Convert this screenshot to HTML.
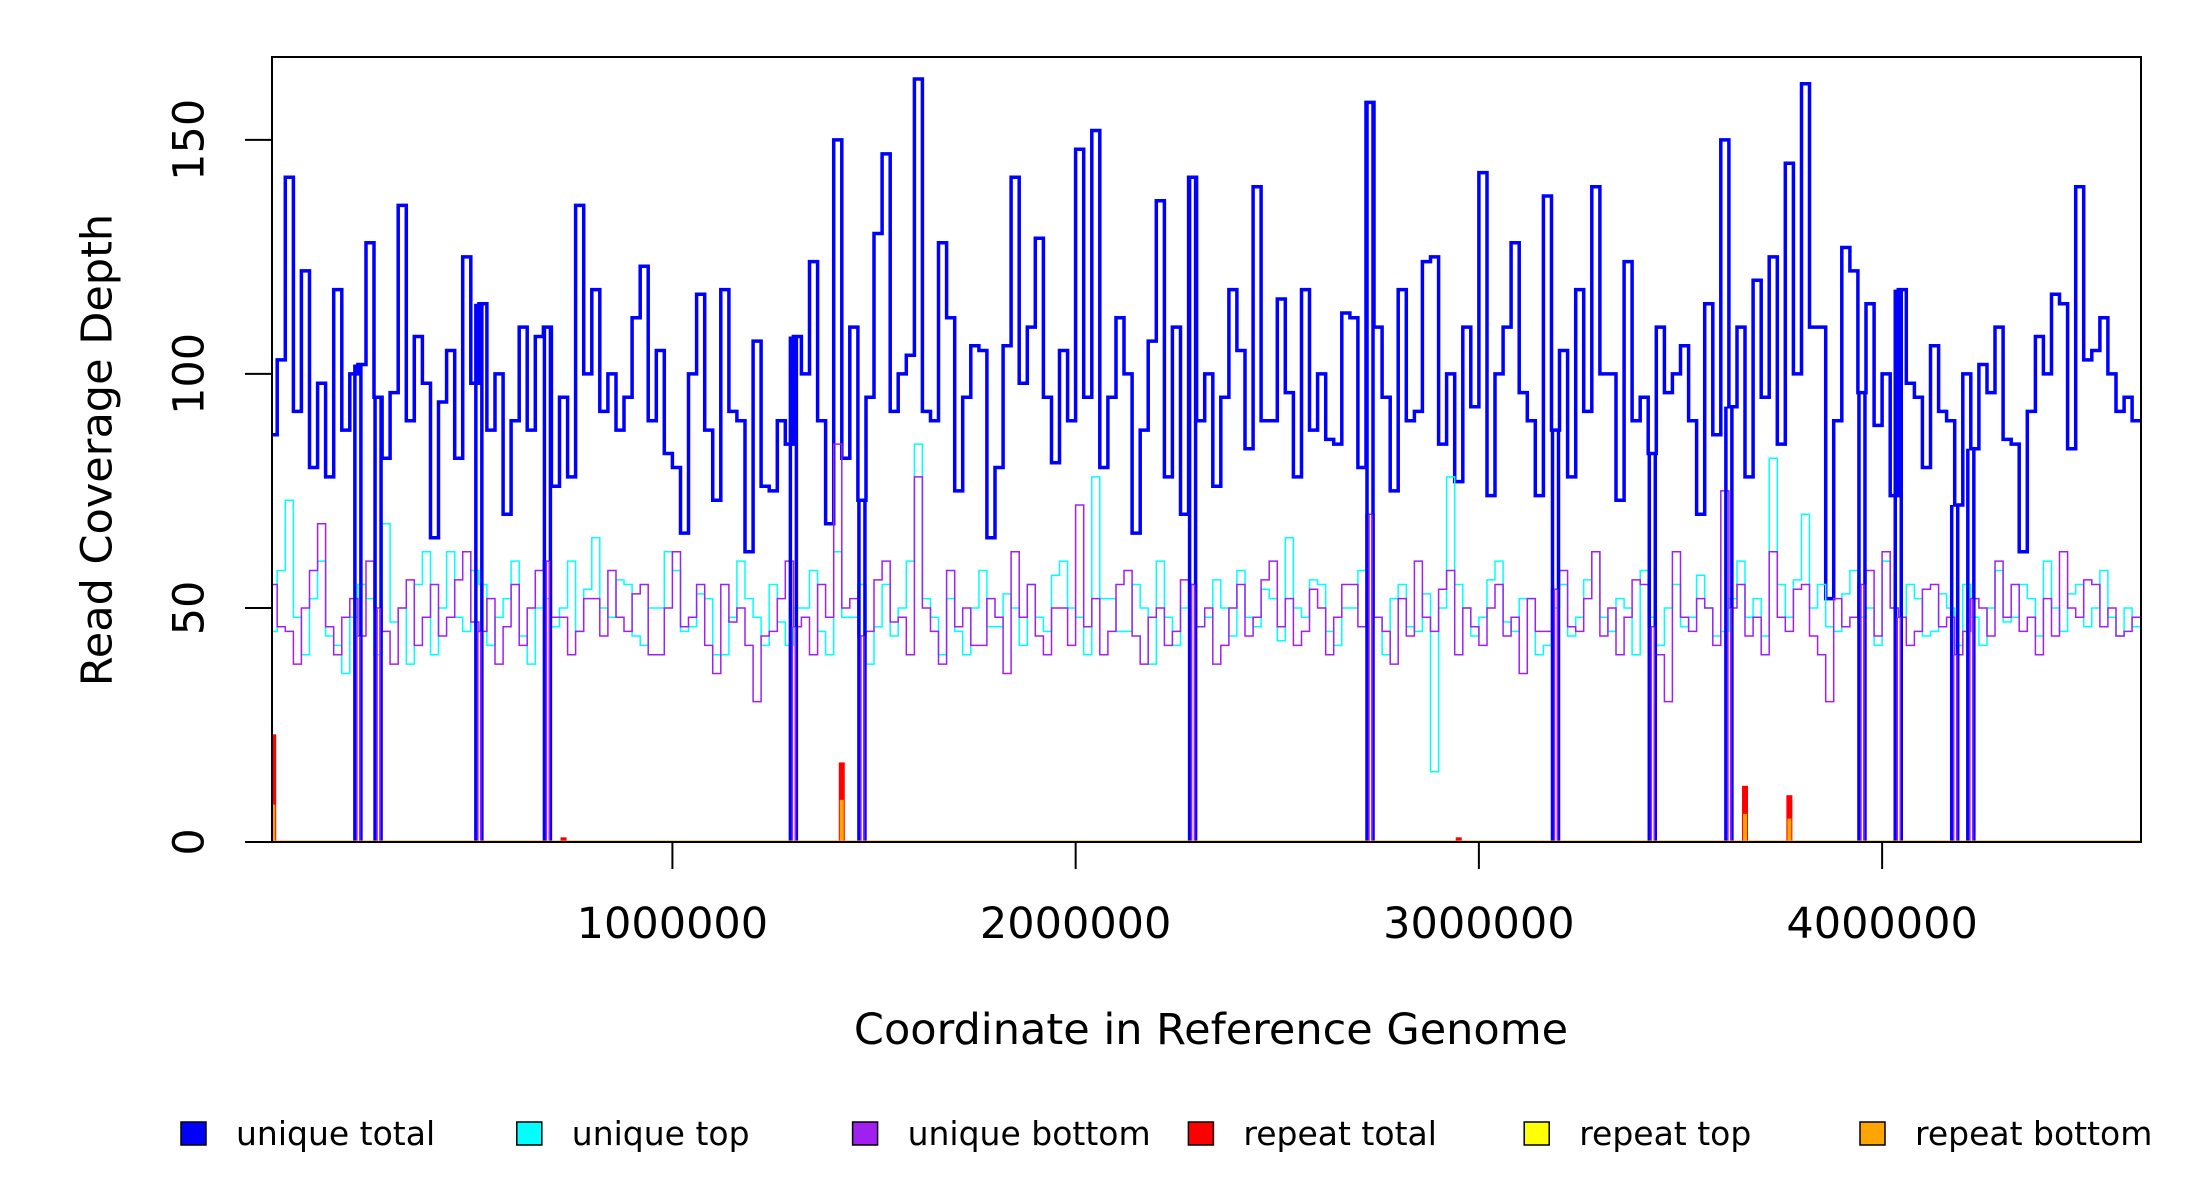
<!DOCTYPE html>
<html><head><meta charset="utf-8"><style>
body{margin:0;background:#fff;}
svg{display:block;font-family:"DejaVu Sans","Liberation Sans",sans-serif;}
</style></head><body>
<svg id="chart" width="2200" height="1200" viewBox="0 0 2200 1200">
<rect x="0" y="0" width="2200" height="1200" fill="#fff"/>
<g id="series"></g>
<rect x="272" y="57" width="1869" height="785" fill="none" stroke="#000" stroke-width="2"/>
<g id="axes"></g>
<text transform="translate(100,450) rotate(-90)" text-anchor="middle" font-size="43" dominant-baseline="middle">Read Coverage Depth</text>
<text x="1211" y="1044" text-anchor="middle" font-size="43">Coordinate in Reference Genome</text>
<g id="legend"></g>
</svg>
<script>
const binSize = 20000;
const uniqueTotal = [87,103,142,92,122,80,98,78,118,88,100,102,128,95,82,96,136,90,108,98,
65,94,105,82,125,98,115,88,100,70,90,110,88,108,110,76,95,78,136,100,
118,92,100,88,95,112,123,90,105,83,80,66,100,117,88,73,118,92,90,62,
107,76,75,90,85,108,100,124,90,68,150,82,110,73,95,130,147,92,100,104,
163,92,90,128,112,75,95,106,105,65,80,106,142,98,110,129,95,81,105,90,
148,95,152,80,95,112,100,66,88,107,137,78,110,70,142,90,100,76,95,118,
105,84,140,90,90,116,96,78,118,88,100,86,85,113,112,80,158,110,95,75,
118,90,92,124,125,85,100,77,110,93,143,74,100,110,128,96,90,74,138,88,
105,78,118,92,140,100,100,73,124,90,95,83,110,96,100,106,90,70,115,87,
150,93,110,78,120,95,125,85,145,100,162,110,110,52,90,127,122,96,115,89,
100,74,118,98,95,80,106,92,90,72,100,84,102,96,110,86,85,62,92,108,
100,117,115,84,140,103,105,112,100,92,95,90];
const uniqueTop = [45,58,73,48,40,52,60,44,42,36,48,55,52,40,68,47,50,38,55,62,
40,50,62,48,45,58,55,42,48,52,60,44,38,50,52,46,50,60,45,54,
65,50,48,56,55,44,42,50,50,62,58,45,46,53,52,40,40,48,60,52,
48,42,55,47,42,50,50,58,45,40,62,48,48,55,38,46,55,44,50,60,
85,52,48,40,52,45,40,50,58,46,46,53,50,42,55,48,45,57,60,50,
48,40,78,52,52,45,45,55,50,38,60,48,42,50,55,46,48,56,50,44,
58,48,46,54,52,43,65,50,48,56,55,45,42,50,50,58,70,48,40,52,
55,46,45,53,15,50,78,55,50,44,48,56,60,47,45,52,52,40,42,50,
55,44,48,56,62,48,45,52,50,40,58,48,42,50,55,46,48,57,50,44,
45,52,60,48,52,44,82,55,48,56,70,50,55,46,45,53,58,48,50,42,
60,50,48,55,52,44,45,53,50,42,55,48,42,50,58,47,48,55,52,44,
60,50,45,53,55,46,50,58,48,44,50,46];
const uniqueBottom = [55,46,45,38,50,58,68,46,40,48,52,44,60,50,45,38,50,56,42,48,
55,44,48,56,62,47,45,52,38,46,55,42,50,58,60,48,48,40,45,52,
52,44,58,48,45,53,55,40,40,50,62,46,48,55,42,36,55,47,50,42,
30,44,45,52,60,46,48,40,55,48,85,50,52,44,45,56,60,47,48,40,
78,50,45,38,58,46,50,42,42,52,48,36,62,48,55,44,40,50,50,42,
72,46,52,40,45,55,58,44,38,48,50,42,45,56,55,46,50,38,42,50,
55,44,48,56,60,46,52,42,45,54,50,40,48,55,55,46,70,48,45,38,
52,44,60,48,45,54,58,40,50,46,42,50,55,44,48,36,52,45,45,54,
58,46,45,52,62,44,50,40,48,56,55,46,40,30,62,48,45,52,50,42,
75,50,55,44,48,40,62,48,45,54,55,44,40,30,52,46,48,55,58,44,
62,50,48,42,45,54,55,46,48,40,45,52,50,44,60,48,55,45,48,40,
52,44,62,50,48,56,55,46,50,44,45,48];
const dropCoords = [220000,270000,520000,690000,1300000,1470000,2290000,2730000,3190000,3430000,3620000,3950000,4040000,4180000,4220000];
const repeatCoords = [10000,1420000,3660000,3770000,730000,2950000];
const repeatTotal = [23,17,12,10,1,1];
const repeatBottom = [8,9,6,5,0,0];
const yTicks = [0,50,100,150];
const xTicks = [1000000,2000000,3000000,4000000];
const xTickLabels = ["1000000","2000000","3000000","4000000"];
const legendLabels = ["unique total","unique top","unique bottom","repeat total","repeat top","repeat bottom"];
const legendColors = ["#0000ff","#00ffff","#a020f0","#ff0000","#ffff00","#ffa500"];

const X0=272,X1=2141,Y0=842,Y1=57, XMIN=7000, XMAX=4642000, YMAX=167.7;
const sx=v=>X0+(v-XMIN)/(XMAX-XMIN)*(X1-X0);
const sy=v=>Y0-v/YMAX*(Y0-Y1);
const NS="http://www.w3.org/2000/svg";
const series=document.getElementById('series');
function mk(tag,attrs,parent){const e=document.createElementNS(NS,tag);for(const k in attrs)e.setAttribute(k,attrs[k]);parent.appendChild(e);return e;}
function stepPath(vals){
  let d='';
  vals.forEach((v,i)=>{
    const xa=Math.max(X0,sx(i*binSize)), xb=Math.min(X1,sx((i+1)*binSize));
    d+=(i===0?'M':'L')+xa.toFixed(1)+','+sy(v).toFixed(1)+'H'+xb.toFixed(1);
  });
  return d;
}
const clip=mk('clipPath',{id:'pc'},series);
mk('rect',{x:X0,y:Y1,width:X1-X0,height:Y0-Y1},clip);
const g=mk('g',{'clip-path':'url(#pc)'},series);
let p=mk('path',{d:stepPath(uniqueTotal),fill:'none',stroke:'#0000ff','stroke-width':3.5},g);


p=mk('path',{d:stepPath(uniqueTop),fill:'none',stroke:'#00ffff','stroke-width':1.5},g);


p=mk('path',{d:stepPath(uniqueBottom),fill:'none',stroke:'#a020f0','stroke-width':1.5},g);


dropCoords.forEach(c=>{
  const i=Math.min(uniqueTotal.length-1,Math.floor(c/binSize));
  const x=sx(c);
  const dg=mk('g',{},g);
  
  
  mk('path',{d:`M${x-3},${sy(uniqueTotal[i])}V${Y0}M${x+3},${sy(uniqueTotal[i])}V${Y0}`,stroke:'#0000ff','stroke-width':3.5,fill:'none'},dg);
  mk('path',{d:`M${x-1},${sy(uniqueBottom[i])}V${Y0}M${x+2},${sy(uniqueBottom[i])}V${Y0}`,stroke:'#a020f0','stroke-width':1.5,fill:'none'},dg);
});
repeatCoords.forEach((c,i)=>{
  const x=sx(c);
  let r=mk('rect',{x:x-3,y:sy(repeatTotal[i]),width:6,height:Y0-sy(repeatTotal[i]),fill:'#ff0000'},g);
  
  
  if(repeatBottom[i]>0){
    r=mk('rect',{x:x-2,y:sy(repeatBottom[i]),width:4,height:Y0-sy(repeatBottom[i]),fill:'#ffa500'},g);
    
    
  }
});
let bl=mk('line',{x1:X0,x2:X1,y1:Y0,y2:Y0,stroke:'#ffa500','stroke-width':3},g);



const axes=document.getElementById('axes');
yTicks.forEach(v=>{
  const y=sy(v);
  let t=mk('line',{x1:245,x2:X0,y1:y,y2:y,stroke:'#000','stroke-width':2},axes);
  
  
  t=mk('text',{transform:`translate(192,${y}) rotate(-90)`,'text-anchor':'middle','dominant-baseline':'middle','font-size':43},axes);
  t.textContent=v;
  
  
});
xTicks.forEach((v,i)=>{
  const x=sx(v);
  let t=mk('line',{x1:x,x2:x,y1:Y0,y2:869,stroke:'#000','stroke-width':2},axes);
  
  
  t=mk('text',{x:x,y:938,'text-anchor':'middle','font-size':43},axes);
  t.textContent=xTickLabels[i];
  
  
});
const legend=document.getElementById('legend');
legendLabels.forEach((lab,i)=>{
  const bx=181+i*335.8;
  const eg=mk('g',{},legend);
  
  
  mk('rect',{x:bx,y:1122,width:25,height:23,fill:legendColors[i],stroke:'#000','stroke-width':1.5},eg);
  const t=mk('text',{x:bx+55,y:1145,'font-size':33},eg);
  t.textContent=lab;
});
</script>
</body></html>
